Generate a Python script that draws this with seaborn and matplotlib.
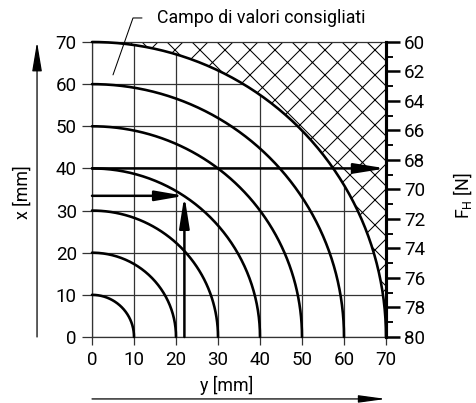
import numpy as np
import pandas as pd
import matplotlib
matplotlib.use("Agg")
import matplotlib.pyplot as plt
import seaborn as sns

# chart values
radii = [10, 20, 30, 40, 50, 60, 70]            # quarter circles [mm]
grid_ticks = [0, 10, 20, 30, 40, 50, 60, 70]    # x and y axis ticks [mm]
force_ticks = [60, 62, 64, 66, 68, 70, 72, 74, 76, 78, 80]   # F_H [N]
force_minor = [61, 63, 65, 67, 69, 71, 73, 75, 77, 79]
limit_radius = 70                               # beyond this: hatched area
read_y = 22        # example reading: y [mm]
read_x = 33.5      # example reading: x [mm] on the 40 curve
force_line_x = 40  # horizontal reading line to the F_H scale
note_text = "Campo di valori consigliati"

sns.set_style("white")
plt.rcParams['font.family'] = ['Roboto', 'DejaVu Sans']
plt.rcParams['mathtext.fontset'] = 'custom'
plt.rcParams['mathtext.rm'] = 'Roboto'
plt.rcParams['hatch.linewidth'] = 0.5
for key in ['text.color', 'xtick.color', 'ytick.color', 'axes.labelcolor']:
    plt.rcParams[key] = 'black'

DPI = 150
fig = plt.figure(figsize=(476 / DPI, 403 / DPI), dpi=DPI)
ax = fig.add_axes([0.1933, 0.1638, 0.6176, 0.732])

# quarter circles, one line per radius
theta = np.linspace(0, np.pi / 2, 200)
arcs = pd.concat([
    pd.DataFrame({'radius': r, 'y': r * np.cos(theta), 'x': r * np.sin(theta)})
    for r in radii
])
sns.lineplot(data=arcs, x='y', y='x', units='radius', estimator=None, sort=False,
             color='black', lw=1.25, ax=ax, clip_on=False, zorder=3)

# hatched area outside the largest circle
t = np.linspace(0, limit_radius, 300)
ax.fill_between(t, np.sqrt(limit_radius ** 2 - t ** 2), limit_radius,
                facecolor='white', edgecolor='black', hatch='xx', linewidth=0,
                zorder=1.5)

ax.set_xlim(0, 70)
ax.set_ylim(0, 70)
ax.set_xticks(grid_ticks)
ax.set_yticks(grid_ticks)
ax.set_axisbelow(True)
ax.grid(True, color='#333333', lw=0.6)
ax.tick_params(axis='y', direction='out', length=4.8, width=0.6, pad=2.5,
               labelsize=9, color='#333333', left=True)
ax.tick_params(axis='x', direction='out', length=3.8, width=0.6, pad=3,
               labelsize=9, color='#333333', bottom=True)
for side in ['left', 'bottom', 'top']:
    ax.spines[side].set_linewidth(0.6)
    ax.spines[side].set_color('#333333')
ax.spines['right'].set_visible(False)
ax.set_xlabel('')
ax.set_ylabel('')

# force scale on the right
ax2 = ax.twinx()
ax2.set_ylim(force_ticks[-1], force_ticks[0])
ax2.set_yticks(force_ticks)
ax2.set_yticks(force_minor, minor=True)
ax2.tick_params(axis='y', which='major', direction='out', length=6.7, width=1.2,
                pad=2, labelsize=9)
ax2.tick_params(axis='y', which='minor', direction='out', length=3.3, width=0.9)
for side in ['left', 'bottom', 'top']:
    ax2.spines[side].set_visible(False)
ax2.spines['right'].set_linewidth(1.5)
ax2.spines['right'].set_color('black')

# reading lines with arrows
head = dict(color='black', shrinkA=0, shrinkB=0, mutation_scale=10)
ax.annotate('', xy=(70, force_line_x), xytext=(0, force_line_x),
            arrowprops=dict(arrowstyle='-|>,head_length=1.25,head_width=0.2',
                            lw=1.2, **head), zorder=4)
ax.annotate('', xy=(read_y, read_x), xytext=(0, read_x),
            arrowprops=dict(arrowstyle='-|>,head_length=1.15,head_width=0.2',
                            lw=1.2, **head), zorder=4)
ax.annotate('', xy=(read_y, read_x), xytext=(read_y, 0),
            arrowprops=dict(arrowstyle='-|>,head_length=1.25,head_width=0.2',
                            lw=1.2, **head), zorder=4)

# axis arrows outside the plot
ax.annotate('', xy=(-0.187, 70), xytext=(-0.187, 0),
            xycoords=('axes fraction', 'data'), textcoords=('axes fraction', 'data'),
            arrowprops=dict(arrowstyle='-|>,head_length=1.2,head_width=0.2',
                            lw=0.6, **head), annotation_clip=False)
ax.annotate('', xy=(70, -0.21), xytext=(0, -0.21),
            xycoords=('data', 'axes fraction'), textcoords=('data', 'axes fraction'),
            arrowprops=dict(arrowstyle='-|>,head_length=1.1,head_width=0.15',
                            lw=0.6, **head), annotation_clip=False)

ax.text(-0.235, 0.49, 'x [mm]', transform=ax.transAxes, rotation=90,
        ha='center', va='center', fontsize=8.5)
ax.text(0.459, -0.163, 'y [mm]', transform=ax.transAxes,
        ha='center', va='center', fontsize=8.5)
ax.text(1.262, 0.478, r'F$_\mathrm{H}$ [N]', transform=ax.transAxes, rotation=90,
        ha='center', va='center', fontsize=8.5)

# callout for the recommended range
ax.plot([11.9, 9.76, 5.0], [75.7, 75.7, 62.2], color='black', lw=0.5,
        clip_on=False, zorder=5)
ax.text(15.5, 75.7, note_text, ha='left', va='center', fontsize=8.5, clip_on=False)

fig.savefig('out.png', dpi=DPI)
